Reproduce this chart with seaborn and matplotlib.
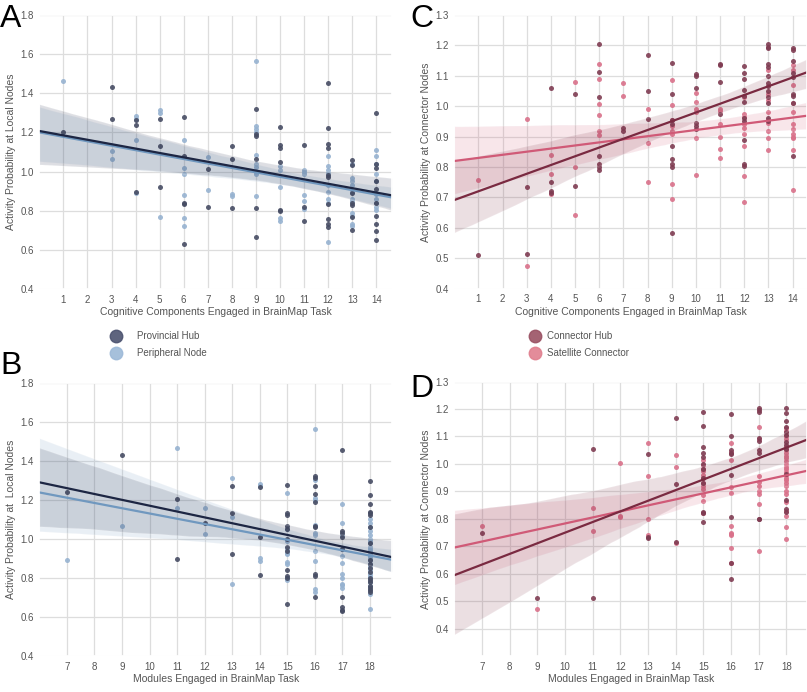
"""Activity probability at local / connector nodes vs. BrainMap task breadth (4 panels)."""

import matplotlib
matplotlib.use("Agg")
import matplotlib.pyplot as plt
from matplotlib.lines import Line2D
import numpy as np
import pandas as pd
import seaborn as sns

# ---- data: x value -> activity probabilities ----
A_HUB = {1: [1.20], 3: [1.43, 1.27], 4: [1.265, 1.24, 0.895], 5: [1.27, 1.13, 0.92],
         6: [1.28, 1.08, 0.84, 0.835, 0.63], 7: [1.015, 0.82], 8: [1.13, 1.065, 0.815],
         9: [1.32, 1.19, 1.18, 1.065, 0.815, 0.665], 10: [1.23, 1.135, 1.12, 1.05, 0.805, 0.80],
         11: [1.135, 0.82, 0.745],
         12: [1.455, 1.225, 1.14, 1.12, 0.98, 0.97, 0.835, 0.76, 0.73, 0.715],
         13: [1.06, 1.035, 0.89, 0.84, 0.83, 0.77, 0.70],
         14: [1.30, 1.04, 1.02, 0.95, 0.91, 0.84, 0.775, 0.73, 0.695, 0.65]}
A_PERIPH = {1: [1.465], 3: [1.105, 1.065], 4: [1.285, 1.27, 1.16, 0.89], 5: [1.315, 1.30, 0.77],
            6: [1.16, 1.02, 0.99, 0.88, 0.765, 0.72], 7: [1.075, 0.905], 8: [0.885, 0.875],
            9: [1.565, 1.235, 1.215, 1.20, 1.085, 1.04, 1.025, 1.00, 0.99, 0.875],
            10: [1.03, 1.01, 0.92, 0.765, 0.745], 11: [1.01, 1.00, 0.99, 0.88, 0.85, 0.81],
            12: [1.08, 1.03, 1.01, 0.995, 0.93, 0.895, 0.86, 0.84, 0.64],
            13: [1.04, 0.965, 0.95, 0.93, 0.895, 0.86, 0.85, 0.79, 0.775, 0.73, 0.72],
            14: [1.11, 1.08, 1.04, 0.99, 0.95, 0.885, 0.86, 0.84, 0.82, 0.805]}

B_HUB = {7: [1.24], 9: [1.43], 11: [1.205, 0.895], 12: [1.08], 13: [1.27, 1.13, 0.92],
         14: [1.265, 1.01, 0.815],
         15: [1.275, 1.13, 1.12, 1.065, 1.05, 1.00, 0.96, 0.94, 0.84, 0.81, 0.80, 0.665],
         16: [1.32, 1.31, 1.27, 1.23, 1.19, 1.065, 1.06, 0.82, 0.81, 0.70],
         17: [1.455, 1.04, 1.03, 1.01, 0.95, 0.70, 0.65, 0.635, 0.63],
         18: [1.295, 1.225, 1.18, 1.14, 1.13, 1.12, 1.06, 0.98, 0.89, 0.87, 0.85, 0.83, 0.80,
              0.79, 0.78, 0.76, 0.75, 0.74, 0.73]}
B_PERIPH = {7: [0.89], 9: [1.065], 11: [1.465, 1.16], 12: [1.16, 1.025], 13: [1.31, 1.11, 0.77],
            14: [1.28, 1.27, 0.90, 0.885],
            15: [1.235, 1.05, 0.99, 0.95, 0.93, 0.92, 0.88, 0.87, 0.80, 0.79],
            16: [1.565, 1.30, 1.21, 1.20, 1.07, 1.03, 1.02, 0.94, 0.885, 0.745, 0.73],
            17: [1.18, 1.08, 1.02, 0.95, 0.91, 0.875, 0.82, 0.80, 0.77, 0.765, 0.75],
            18: [1.10, 1.08, 1.06, 1.04, 1.02, 1.00, 0.99, 0.98, 0.96, 0.95, 0.94, 0.92, 0.91,
                 0.90, 0.89, 0.87, 0.86, 0.84, 0.82, 0.81, 0.80, 0.78, 0.76, 0.74, 0.72, 0.64]}

C_HUB = {1: [0.51], 3: [0.733, 0.515], 4: [1.06, 0.75, 0.72, 0.715], 5: [1.039, 0.738],
         6: [1.206, 1.111, 1.03, 0.837, 0.81, 0.80, 0.789], 7: [0.928, 0.918],
         8: [1.168, 1.049, 0.957],
         9: [1.141, 1.04, 0.955, 0.94, 0.87, 0.825, 0.81, 0.80, 0.584],
         10: [1.105, 1.10, 1.06, 0.945, 0.935, 0.925], 11: [1.14, 1.135, 1.08, 0.975],
         12: [1.132, 1.11, 1.09, 1.055, 1.035, 1.015, 0.96, 0.95, 0.89, 0.81, 0.805],
         13: [1.205, 1.195, 1.19, 1.14, 1.13, 1.10, 1.075, 1.065, 1.05, 1.03, 1.01, 0.96, 0.95],
         14: [1.19, 1.185, 1.15, 1.11, 1.095, 1.04, 1.035, 1.01, 0.835]}
C_SAT = {1: [0.757], 3: [0.959, 0.476], 4: [0.84, 0.777, 0.71], 5: [1.079, 0.80, 0.642],
         6: [1.138, 1.09, 1.006, 0.97, 0.92, 0.905], 7: [1.075, 1.035], 8: [0.99, 0.878, 0.752],
         9: [1.086, 1.005, 0.955, 0.935, 0.92, 0.91, 0.743, 0.696],
         10: [1.045, 1.015, 0.99, 0.98, 0.895, 0.775], 11: [0.99, 0.985, 0.94, 0.90, 0.86, 0.83],
         12: [1.03, 0.975, 0.965, 0.94, 0.93, 0.91, 0.87, 0.77, 0.685],
         13: [1.12, 1.04, 1.02, 0.98, 0.955, 0.945, 0.92, 0.895, 0.855],
         14: [1.135, 1.12, 1.07, 1.01, 0.98, 0.94, 0.925, 0.91, 0.90, 0.895, 0.855, 0.725]}

D_HUB = {7: [0.75], 9: [0.512], 11: [1.056, 0.51], 13: [1.036, 0.735, 0.73],
         14: [1.166, 0.925, 0.715],
         15: [1.19, 1.138, 1.06, 1.04, 1.025, 1.00, 0.98, 0.95, 0.93, 0.825, 0.82, 0.788],
         16: [1.183, 1.10, 1.05, 1.04, 1.035, 0.958, 0.808, 0.64, 0.582],
         17: [1.205, 1.195, 1.19, 1.095, 1.085, 1.05, 1.04, 0.80, 0.80],
         18: [1.205, 1.185, 1.155, 1.135, 1.115, 1.105, 1.08, 1.07, 1.055, 0.965, 0.87, 0.835,
              0.825]}
D_SAT = {7: [0.775], 9: [0.473], 11: [0.84, 0.755], 12: [1.003, 0.81, 0.805],
         13: [1.076, 0.956, 0.80, 0.74], 14: [1.032, 0.99, 0.71],
         15: [1.015, 0.995, 0.98, 0.975, 0.96, 0.95, 0.93, 0.92, 0.91, 0.885, 0.865, 0.82],
         16: [1.075, 1.045, 1.015, 0.915, 0.895, 0.775, 0.75, 0.745, 0.74, 0.694, 0.64],
         17: [1.135, 1.09, 0.955, 0.935, 0.92, 0.90, 0.89, 0.855, 0.682],
         18: [1.13, 1.12, 1.10, 1.09, 1.06, 1.05, 1.04, 1.03, 1.02, 1.01, 1.00, 0.99, 0.98, 0.97,
              0.96, 0.95, 0.94, 0.93, 0.92, 0.90, 0.89, 0.86, 0.83, 0.81, 0.77, 0.725]}

COG_TICKS = list(range(1, 15))
MOD_TICKS = list(range(7, 19))
LOCAL_YTICKS = [0.4, 0.6, 0.8, 1.0, 1.2, 1.4, 1.6, 1.8]
CONN_YTICKS = [0.4, 0.5, 0.6, 0.7, 0.8, 0.9, 1.0, 1.1, 1.2, 1.3]

# colours: (points, line/band)
HUB_C = ("#464c63", "#1d2643")
PERIPH_C = ("#96b2d0", "#7098bf")
CHUB_C = ("#7f3c52", "#7a2a41")
SAT_C = ("#d9718a", "#d05a77")

TEXT = "#555555"

sns.set_theme(style="whitegrid")
plt.rcParams.update({
    "font.family": ["Liberation Sans", "DejaVu Sans"],
    "axes.edgecolor": "white",
    "grid.color": "#dddddd",
    "grid.linewidth": 0.9,
    "xtick.color": TEXT,
    "ytick.color": TEXT,
    "axes.labelcolor": TEXT,
    "xtick.labelsize": 7,
    "ytick.labelsize": 7,
    "axes.labelsize": 7.5,
})


def to_long(d):
    rows = [(x, v) for x, vals in d.items() for v in vals]
    return pd.DataFrame(rows, columns=["x", "y"])


def panel(ax, series, xlim, ylim, xticks, yticks, xlabel, ylabel):
    ax.set_xlim(*xlim)
    ax.set_ylim(*ylim)
    for data, (pc, lc) in series:
        df = to_long(data)
        sns.regplot(data=df, x="x", y="y", ax=ax, truncate=False, seed=0, color=lc,
                    scatter_kws={"color": pc, "s": 13, "alpha": 0.9, "linewidths": 0},
                    line_kws={"color": lc, "lw": 1.6})
    ax.set_xlim(*xlim)
    ax.set_ylim(*ylim)
    ax.set_xticks(xticks)
    ax.set_yticks(yticks)
    ax.tick_params(axis="both", length=0, pad=4)
    ax.set_xlabel(xlabel, labelpad=2)
    ax.set_ylabel(ylabel, labelpad=3)


fig = plt.figure(figsize=(8.07, 6.92), dpi=100)
ax_a = fig.add_axes([0.0487, 0.5824, 0.437, 0.3959])
ax_c = fig.add_axes([0.563, 0.5828, 0.437, 0.3955])
ax_b = fig.add_axes([0.0487, 0.052, 0.437, 0.395])
ax_d = fig.add_axes([0.563, 0.052, 0.437, 0.3966])

panel(ax_a, [(A_PERIPH, PERIPH_C), (A_HUB, HUB_C)], (0, 14.65), (0.4, 1.8), COG_TICKS,
      LOCAL_YTICKS, "Cognitive Components Engaged in BrainMap Task",
      "Activity Probability at Local Nodes")
panel(ax_b, [(B_PERIPH, PERIPH_C), (B_HUB, HUB_C)], (6, 18.8), (0.4, 1.8), MOD_TICKS,
      LOCAL_YTICKS, "Modules Engaged in BrainMap Task",
      "Activity Probability at  Local Nodes")
panel(ax_c, [(C_SAT, SAT_C), (C_HUB, CHUB_C)], (0, 14.6), (0.4, 1.3), COG_TICKS,
      CONN_YTICKS, "Cognitive Components Engaged in BrainMap Task",
      "Activity Probability at Connector Nodes")
panel(ax_d, [(D_SAT, SAT_C), (D_HUB, CHUB_C)], (6, 18.75), (0.3, 1.3), MOD_TICKS,
      CONN_YTICKS, "Modules Engaged in BrainMap Task",
      "Activity Probability at Connector Nodes")

# legends under the top panels
def legend_at(ax, labels, colors, x, pad):
    handles = [Line2D([], [], ls="", marker="o", ms=9, color=c, alpha=0.9) for c in colors]
    ax.legend(handles, labels, loc="upper left", bbox_to_anchor=(x, 1 - 331 / 692),
              bbox_transform=fig.transFigure, frameon=False, fontsize=7, labelcolor=TEXT,
              borderpad=0, borderaxespad=0, handlelength=1.2, handletextpad=pad,
              labelspacing=0.75)


legend_at(ax_a, ["Provincial Hub", "Peripheral Node"], ["#4c5370", "#9db9d8"], 110 / 807, 1.6)
legend_at(ax_c, ["Connector Hub", "Satellite Connector"], ["#9a5264", "#e0808f"], 529 / 807, 0.7)

for letter, x, y in [("A", 0, 4), ("C", 410, 4), ("B", 0, 351), ("D", 410, 374)]:
    fig.text(x / 807, 1 - y / 692, letter, fontsize=23, va="top", ha="left", color="black")

fig.savefig("out.png", dpi=100)
